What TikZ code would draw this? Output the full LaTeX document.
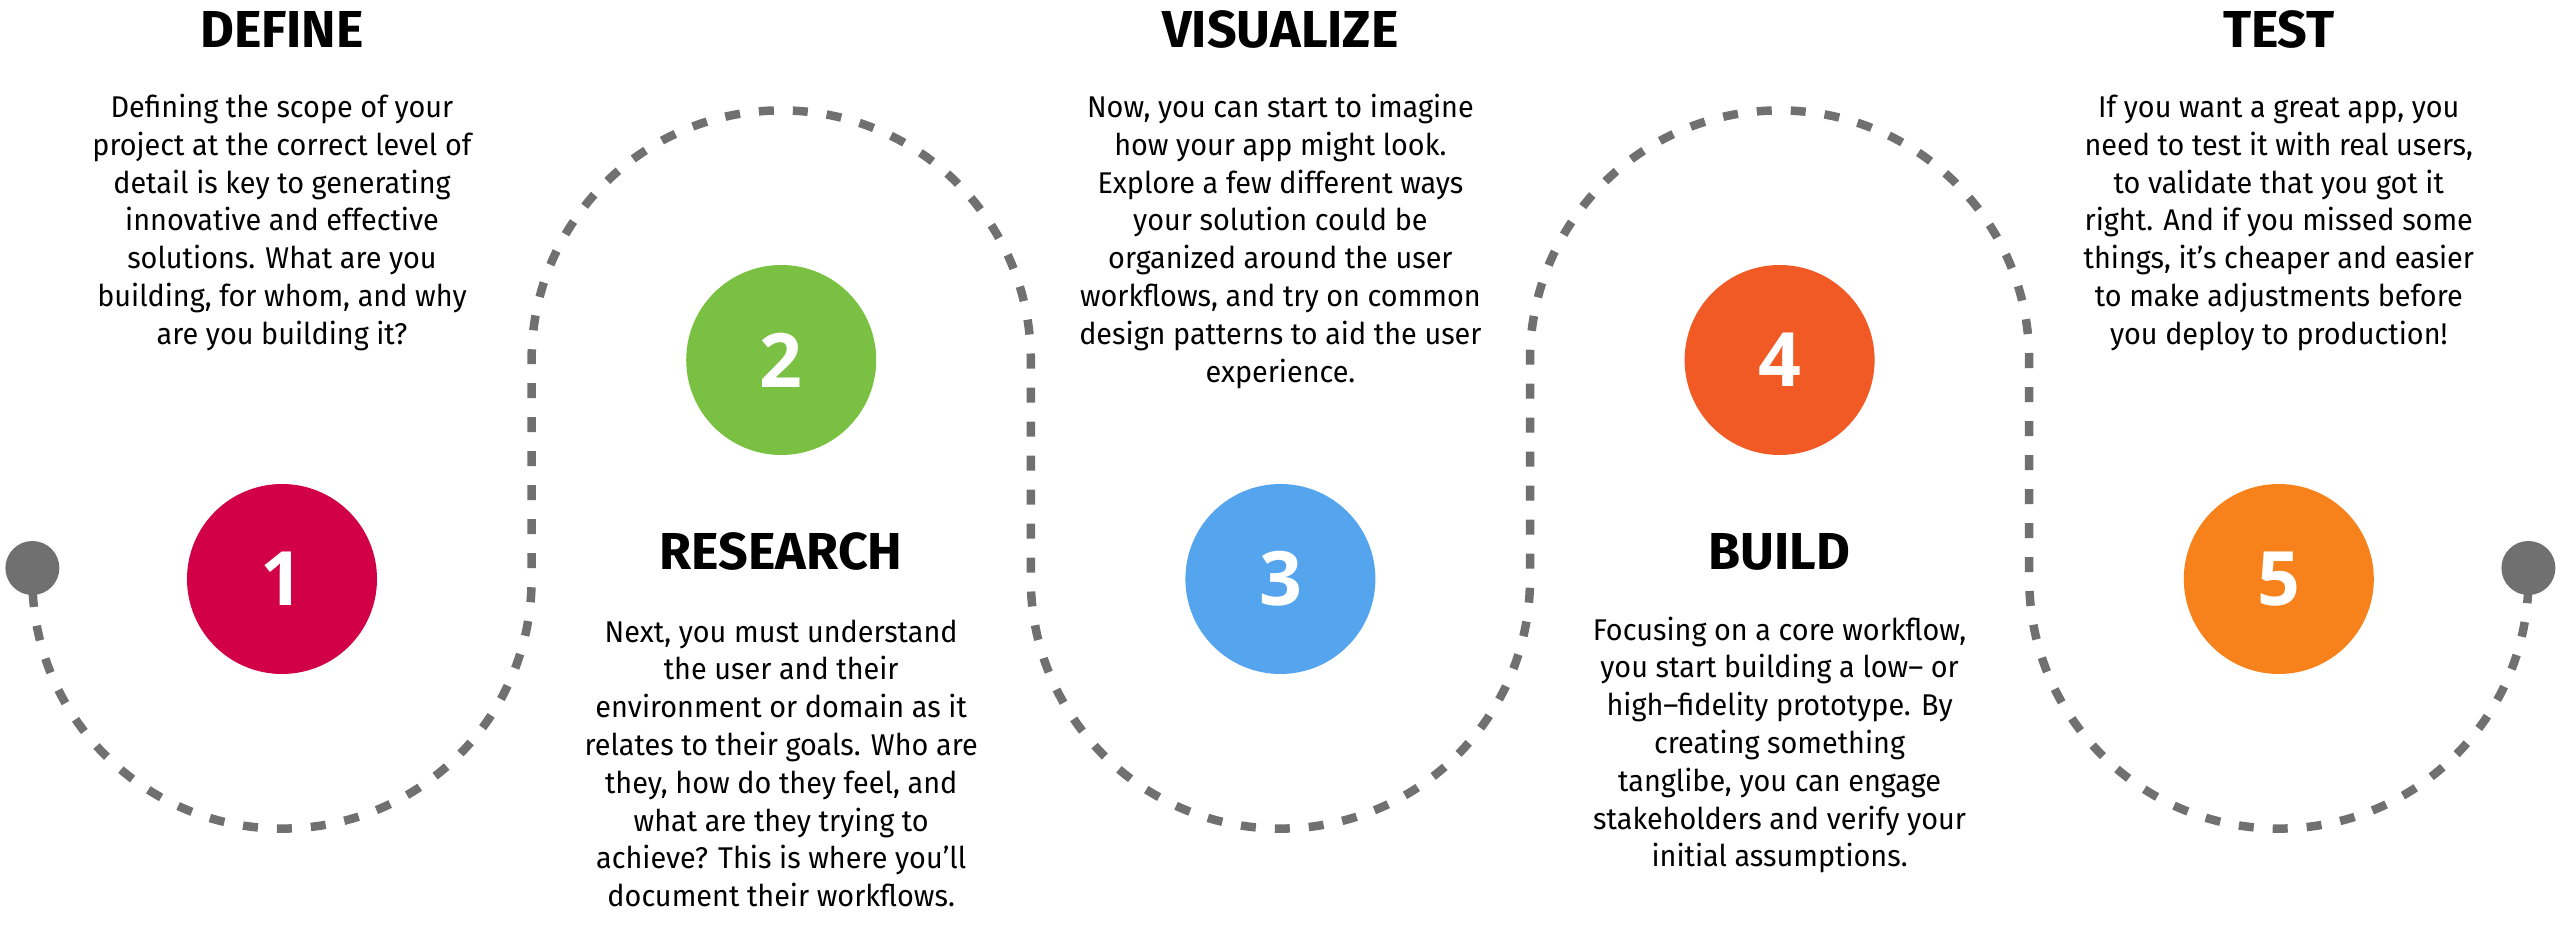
\documentclass[tikz,border=0pt]{standalone}
\usepackage{fontspec}
\setmainfont{Fira Sans}[FakeStretch=0.96]
\newfontfamily\titlefont{Fira Sans}
\newfontfamily\numfont{Open Sans}
\definecolor{stepone}{HTML}{D10047}
\definecolor{steptwo}{HTML}{7AC143}
\definecolor{stepthree}{HTML}{55A5EE}
\definecolor{stepfour}{HTML}{F15A24}
\definecolor{stepfive}{HTML}{F7821B}
\definecolor{wavegray}{HTML}{707070}

\begin{document}
\begin{tikzpicture}[x=1pt, y=1pt]

\tikzstyle{stepcircle}=[circle, minimum size=190pt, inner sep=0pt, text=white, font=\numfont\bfseries\fontsize{75}{75}\selectfont]
\tikzstyle{steptitle}=[anchor=base, inner sep=0pt, font=\titlefont\bfseries\fontsize{52}{52}\selectfont]
\tikzstyle{steptext}=[anchor=base, inner sep=0pt, align=center, font=\fontsize{30}{37.8}\selectfont]
\tikzstyle{enddot}=[circle, fill=wavegray, minimum size=54pt, inner sep=0pt]
\tikzstyle{wave}=[wavegray, line width=8.5pt, dash pattern=on 15pt off 19pt, dash phase=10pt]

\useasboundingbox (0,0) rectangle (2560,935);

% the two ends of the path
\node (dotL) [enddot] at (32.4,367) {};
\node (dotR) [enddot] at (2528.4,367) {};

\draw [wave] (dotL.center) -- ++(0,-11)
  arc [start angle=180, end angle=360, radius=249.6] -- ++(0,219)
  arc [start angle=180, end angle=0, radius=249.6] -- ++(0,-219)
  arc [start angle=180, end angle=360, radius=249.6] -- ++(0,219)
  arc [start angle=180, end angle=0, radius=249.6] -- ++(0,-219)
  arc [start angle=180, end angle=360, radius=249.6] -- (dotR.center);

% numbered steps
\node (S1) [stepcircle, fill=stepone]   at (282,356)    {1};
\node (S2) [stepcircle, fill=steptwo]   at (781.2,575)  {2};
\node (S3) [stepcircle, fill=stepthree] at (1280.4,356) {3};
\node (S4) [stepcircle, fill=stepfour]  at (1779.6,575) {4};
\node (S5) [stepcircle, fill=stepfive]  at (2278.8,356) {5};

% titles
\node (T1) [steptitle] at (282,887)    {DEFINE};
\node (T2) [steptitle] at (781.2,365)  {RESEARCH};
\node (T3) [steptitle] at (1280.4,887) {VISUALIZE};
\node (T4) [steptitle] at (1779.6,365) {BUILD};
\node (T5) [steptitle] at (2278.8,887) {TEST};

% descriptions (base = last line)
\node (D1) [steptext] at (282,590.7) {Defining the scope of your\\project at the correct level of\\detail is key to generating\\innovative and effective\\solutions. What are you\\building, for whom, and why\\are you building it?};
\node (D2) [steptext] at (781.2,28.4) {Next, you must understand\\the user and their\\environment or domain as it\\relates to their goals. Who are\\they, how do they feel, and\\what are they trying to\\achieve? This is where you’ll\\document their workflows.};
\node (D3) [steptext] at (1280.4,552.9) {Now, you can start to imagine\\how your app might look.\\Explore a few different ways\\your solution could be\\organized around the user\\workflows, and try on common\\design patterns to aid the user\\experience.};
\node (D4) [steptext] at (1779.6,68.2) {Focusing on a core workflow,\\you start building a low-- or\\high--fidelity prototype. By\\creating something\\tanglibe, you can engage\\stakeholders and verify your\\initial assumptions.};
\node (D5) [steptext] at (2278.8,590.7) {If you want a great app, you\\need to test it with real users,\\to validate that you got it\\right. And if you missed some\\things, it’s cheaper and easier\\to make adjustments before\\you deploy to production!};

\end{tikzpicture}
\end{document}
